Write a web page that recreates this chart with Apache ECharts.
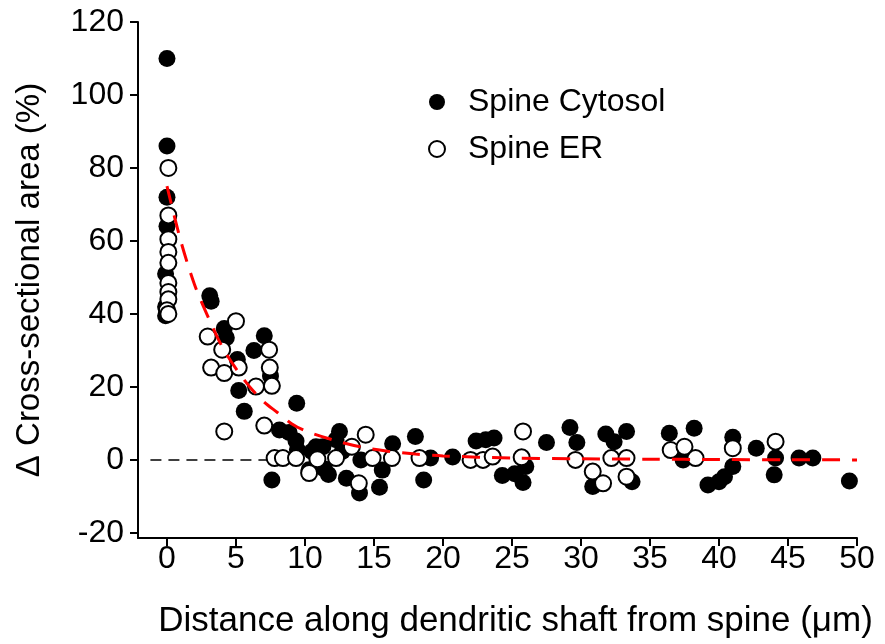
<!DOCTYPE html>
<html><head><meta charset="utf-8">
<script src="https://cdn.jsdelivr.net/npm/echarts@6/dist/echarts.min.js"></script>
<style>html,body{margin:0;padding:0;background:#fff}#c{width:885px;height:644px}</style>
</head><body><div id="c"></div>
<script>
// Tick values
const xTicks = [0, 5, 10, 15, 20, 25, 30, 35, 40, 45, 50];
const yTicks = [-20, 0, 20, 40, 60, 80, 100, 120];

// Spine Cytosol (filled circles) [distance µm, Δ area %]
const cytosolPoints = [
  [0, 110], [0, 86], [0, 72], [0, 64], [-0.1, 51], [-0.1, 42], [-0.1, 39.5],
  [3.1, 45], [3.2, 43.5], [4.15, 36], [4.3, 33.5], [7.05, 34], [6.3, 30], [5.1, 27.5],
  [7.5, 23], [5.2, 19], [5.6, 13.3], [9.4, 15.5], [8.15, 8.2], [8.85, 7.5], [9.35, 5.2],
  [9.45, 2.8], [7.6, -5.5], [10.5, 2.3], [10.8, 3.6], [11.3, 3.6], [10.3, -2.7], [11.4, -2.5],
  [11.7, -4], [12.5, 7.8], [12.25, 5.5], [12.7, 2.3], [13.0, -5], [14.05, 0], [13.95, -9.1],
  [15.4, -7.5], [15.6, -2.8], [16.35, 4.4], [18.0, 6.4], [19.1, 0.5], [18.6, -5.5], [20.7, 0.8],
  [22.4, 5.2], [23.1, 5.5], [23.7, 6], [24.3, -4.3], [25.2, -3.8], [25.8, -6.2], [26.0, -1.8],
  [27.5, 4.8], [29.2, 8.9], [29.7, 4.8], [30.85, -7.3], [31.8, 7.1], [33.3, 7.8], [32.4, 5],
  [33.7, -6], [36.4, 7.3], [38.2, 8.7], [37.4, 0], [39.2, -6.9], [41.0, 6.2], [41.0, -1.8],
  [40.4, -4.6], [40.0, -6], [42.7, 3.2], [44.1, 0.5], [44.0, -4.1], [45.8, 0.5], [46.8, 0.5],
  [49.45, -5.8]
];

// Spine ER (open circles)
const erPoints = [
  [0.1, 80], [0.1, 67], [0.1, 60.5], [0.1, 57], [0.1, 54], [0.1, 48.5], [0.1, 46], [0.1, 44],
  [0, 41], [0.1, 40],
  [5.0, 38], [2.95, 33.8], [4.0, 30.2], [7.4, 30.2], [3.2, 25.3], [4.15, 23.8], [5.2, 25.3],
  [7.45, 25.3], [7.6, 20.3], [6.45, 20.1], [4.15, 7.8], [7.05, 9.4], [7.8, 0.5], [8.4, 0.5],
  [9.35, 0.5], [10.9, 0.2], [10.3, -3.6], [12.25, 0.5], [13.4, 3.6], [14.4, 6.9], [14.9, 0.5],
  [13.9, -6.4], [16.3, 0.5], [18.3, 0.5], [22.0, 0], [22.9, 0], [23.6, 0.9], [25.8, 7.8],
  [25.7, 0.7], [29.6, 0], [30.85, -3.2], [31.6, -6.4], [32.2, 0.5], [33.3, 0.5], [33.3, -4.6],
  [36.5, 2.7], [37.5, 3.6], [38.3, 0.5], [41.0, 3.2], [44.1, 5]
];

// Red dashed fit curve
const fitX = [0, 1, 2, 3, 4, 5, 6, 7, 8, 9, 10, 12, 14, 16, 18, 20, 25, 30, 35, 40, 45, 50];
const fitY = [75, 60, 48, 39, 31, 25, 20, 16, 13, 10, 8, 5.5, 3.6, 2.4, 1.6, 1.1, 0.5, 0.3, 0.2, 0.1, 0.05, 0];

// Black dashed zero reference segment
const zeroX = [-1.2, 8];
const zeroY = [0, 0];

const FONT = 'Liberation Sans, Arial, sans-serif';
const chart = echarts.init(document.getElementById('c'), null, {renderer: 'canvas'});
chart.setOption({
  animation: false,
  backgroundColor: '#fff',
  grid: {left: 138, right: 28, top: 22, bottom: 106, containLabel: false},
  legend: {
    data: ['Spine Cytosol', 'Spine ER'],
    orient: 'vertical',
    left: 423, top: 80,
    itemWidth: 16, itemHeight: 16, itemGap: 13,
    textStyle: {fontSize: 32, fontFamily: FONT, color: '#000', padding: [0, 0, 0, 18], lineHeight: 34}
  },
  xAxis: {
    type: 'value', min: -2.1, max: 50,
    splitLine: {show: false},
    axisLine: {onZero: false, lineStyle: {color: '#000', width: 2}},
    axisTick: {show: true, length: 8, lineStyle: {color: '#000', width: 2}, customValues: xTicks},
    axisLabel: {customValues: xTicks, fontSize: 32, fontFamily: FONT, color: '#000', margin: 5},
    name: 'Distance along dendritic shaft from spine (\u03bcm)',
    nameLocation: 'middle', nameGap: 66,
    nameTextStyle: {fontSize: 35, fontFamily: FONT, color: '#000', padding: [0, 0, 0, 36]}
  },
  yAxis: {
    type: 'value', min: -21.4, max: 120,
    splitLine: {show: false},
    axisLine: {onZero: false, lineStyle: {color: '#000', width: 2}},
    axisTick: {show: true, length: 8, lineStyle: {color: '#000', width: 2}, customValues: yTicks},
    axisLabel: {customValues: yTicks, fontSize: 32, fontFamily: FONT, color: '#000', margin: 14},
    name: '\u0394 Cross-sectional area (%)',
    nameLocation: 'middle', nameGap: 92,
    nameTextStyle: {fontSize: 33, fontFamily: FONT, color: '#000'}
  },
  series: [
    {
      name: 'zero', type: 'line', data: zeroX.map((x, i) => [x, zeroY[i]]),
      symbol: 'none', silent: true, z: 1,
      lineStyle: {color: '#000', width: 1.5, type: [11, 7]}
    },
    {
      name: 'Spine Cytosol', type: 'scatter', data: cytosolPoints, z: 2,
      symbol: 'circle', symbolSize: 17,
      itemStyle: {color: '#000', borderColor: '#000', borderWidth: 0, opacity: 1}
    },
    {
      name: 'Spine ER', type: 'scatter', data: erPoints, z: 3,
      symbol: 'circle', symbolSize: 16,
      itemStyle: {color: '#fff', borderColor: '#000', borderWidth: 2, opacity: 1}
    },
    {
      name: 'fit', type: 'line', data: fitX.map((x, i) => [x, fitY[i]]), smooth: 0.3,
      symbol: 'none', silent: true, z: 4,
      lineStyle: {color: '#ff0000', width: 3, type: [18, 12]}
    }
  ]
});
</script></body></html>
